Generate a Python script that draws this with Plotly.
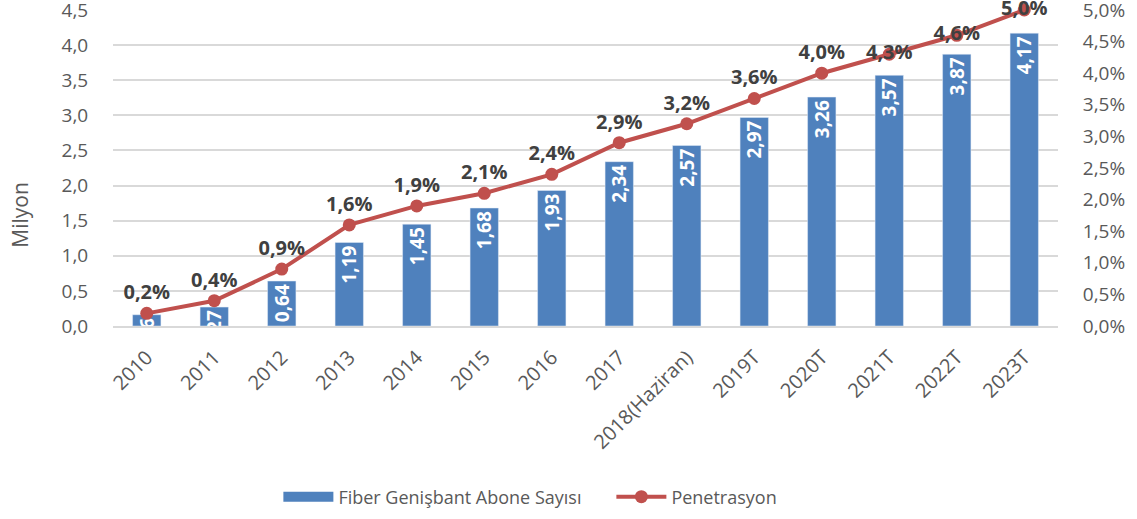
import plotly.graph_objects as go

years = ["2010", "2011", "2012", "2013", "2014", "2015", "2016", "2017",
         "2018(Haziran)", "2019T", "2020T", "2021T", "2022T", "2023T"]
subscribers = [0.16, 0.27, 0.64, 1.19, 1.45, 1.68, 1.93, 2.34, 2.57, 2.97,
               3.26, 3.57, 3.87, 4.17]
penetration = [0.002, 0.004, 0.009, 0.016, 0.019, 0.021, 0.024, 0.029,
               0.032, 0.036, 0.040, 0.043, 0.046, 0.050]

FONT = "Open Sans"
GRAY = "#595959"
BLUE = "#4F81BD"
RED = "#C0504D"

# the last labels sit on their markers in the original
label_pos = ["top center"] * 11 + ["middle center"] * 3

fig = go.Figure()

fig.add_trace(go.Bar(
    x=years, y=subscribers, name="Fiber Genişbant Abone Sayısı",
    marker=dict(color=BLUE), width=0.42, showlegend=False,
    texttemplate="<b>%{y:.2f}</b>", textposition="inside",
    insidetextanchor="end", textangle=-90, constraintext="none",
    textfont=dict(color="white", size=19, family=FONT),
))

# legend-only stand-in so the bar swatch is a wide strip like the original
fig.add_trace(go.Scatter(
    x=[None], y=[None], name="Fiber Genişbant Abone Sayısı",
    mode="lines", line=dict(color=BLUE, width=12),
))

fig.add_trace(go.Scatter(
    x=years, y=penetration, name="Penetrasyon", yaxis="y2",
    mode="lines+markers+text", cliponaxis=False,
    line=dict(color=RED, width=4),
    marker=dict(color=RED, size=13),
    texttemplate="<b>%{y:.1%}</b>", textposition=label_pos,
    textfont=dict(color="#404040", size=20, family=FONT),
))

fig.add_annotation(
    text="Milyon", xref="paper", yref="paper", x=-0.0985, y=0.352,
    xanchor="center", yanchor="middle",
    textangle=-90, showarrow=False, font=dict(size=21, color=GRAY),
)

fig.update_layout(
    width=1137, height=519,
    margin=dict(l=113, r=79, t=10, b=193, autoexpand=False),
    plot_bgcolor="white", paper_bgcolor="white",
    separators=",.",
    font=dict(family=FONT, color=GRAY, size=18),
    showlegend=True,
    legend=dict(orientation="h", x=0.175, xanchor="left", y=-0.541,
                yanchor="middle", font=dict(size=18, color=GRAY),
                traceorder="normal", itemwidth=50, entrywidth=268),
    xaxis=dict(range=[-0.5, 13.5], tickangle=-45, showgrid=False,
               showline=True, linecolor="#D9D9D9", linewidth=1.5,
               ticks="outside", ticklen=10, tickcolor="rgba(0,0,0,0)",
               automargin=False, tickfont=dict(size=20, color=GRAY)),
    yaxis=dict(range=[0, 4.50001], dtick=0.5, tick0=0, tickformat=".1f",
               gridcolor="#D9D9D9", gridwidth=1.5, zeroline=False,
               automargin=False, ticklabeloverflow="allow",
               ticks="outside", ticklen=20, tickcolor="rgba(0,0,0,0)",
               tickfont=dict(size=19, color=GRAY)),
    yaxis2=dict(range=[0, 0.0500001], dtick=0.005, tick0=0, tickformat=".1%",
                overlaying="y", side="right", showgrid=False,
                zeroline=False, automargin=False, ticklabeloverflow="allow",
                ticks="outside", ticklen=20, tickcolor="rgba(0,0,0,0)",
                tickfont=dict(size=19, color=GRAY)),
)

fig.write_html("out.html", config={"displayModeBar": False},
               post_script="document.body.style.margin='0';")
